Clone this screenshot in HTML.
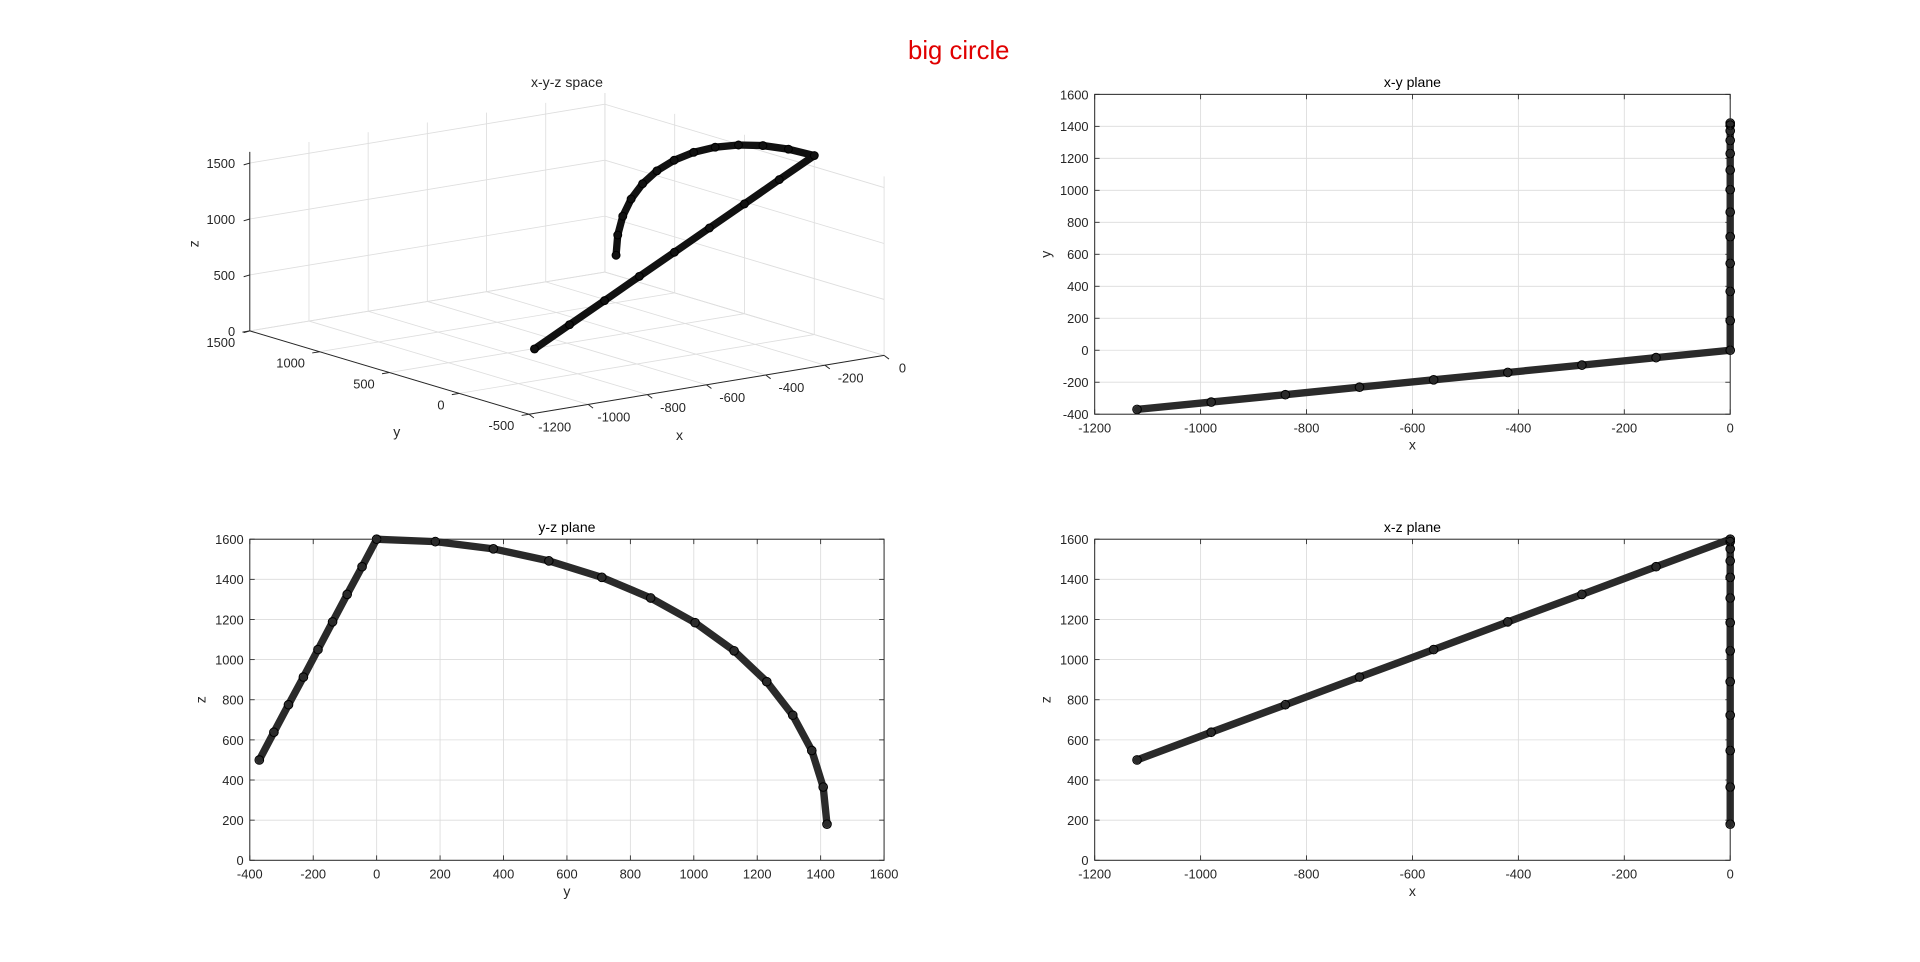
<!DOCTYPE html>
<html><head><meta charset="utf-8"><title>big circle</title>
<style>html,body{margin:0;padding:0;background:#fff;}svg{display:block;font-family:"Liberation Sans",sans-serif;}</style>
</head><body>
<svg id="fig" width="1920" height="962" viewBox="0 0 1568 785" preserveAspectRatio="none" xmlns="http://www.w3.org/2000/svg">
<rect width="1568" height="785" fill="#fff"/>
<text x="783" y="48" text-anchor="middle" font-size="21" fill="#e00000">big circle</text>
</svg>
<script>
// trajectory data: straight segment then quarter arc
const xs = [-1120,-980,-840,-700,-560,-420,-280,-140,0, 0,0,0,0,0,0,0,0,0,0,0,0];
const ys = [-370,-324,-278,-231,-185,-139,-93,-46,0, 185,368,543,710,864,1004,1127,1230,1312,1372,1408,1420];
const zs = [500,638,775,913,1050,1188,1325,1463,1600, 1588,1552,1492,1410,1307,1184,1044,890,723,547,365,180];
const xTicks2d = [-1200,-1000,-800,-600,-400,-200,0];
const yTicksXY = [-400,-200,0,200,400,600,800,1000,1200,1400,1600];
const yTicksYZ = [-400,-200,0,200,400,600,800,1000,1200,1400,1600];
const zTicks2d = [0,200,400,600,800,1000,1200,1400,1600];
const x3Ticks = [-1200,-1000,-800,-600,-400,-200,0];
const y3Ticks = [-500,0,500,1000,1500];
const z3Ticks = [0,500,1000,1500];

const NS="http://www.w3.org/2000/svg";
const svg=document.getElementById('fig');
function mk(tag,attrs,parent){const e=document.createElementNS(NS,tag);for(const k in attrs)e.setAttribute(k,attrs[k]);(parent||svg).appendChild(e);return e;}

function panel2d(name,L,R,T,B,xmin,xmax,ymin,ymax,xt,yt,title,xl,yl,px,py){
  const g=mk('g',{});
  
  
  const sx=v=>L+(v-xmin)/(xmax-xmin)*(R-L);
  const sy=v=>B-(v-ymin)/(ymax-ymin)*(B-T);
  mk('rect',{x:L,y:T,width:R-L,height:B-T,fill:'#fff'},g);
  xt.forEach(v=>{const l=mk('line',{x1:sx(v),x2:sx(v),y1:T,y2:B,stroke:'#dcdcdc','stroke-width':0.7},g);});
  yt.forEach(v=>{const l=mk('line',{x1:L,x2:R,y1:sy(v),y2:sy(v),stroke:'#dcdcdc','stroke-width':0.7},g);});
  xt.forEach(v=>{
    mk('line',{x1:sx(v),x2:sx(v),y1:B,y2:B-4,stroke:'#262626','stroke-width':0.7},g);
    mk('line',{x1:sx(v),x2:sx(v),y1:T,y2:T+4,stroke:'#262626','stroke-width':0.7},g);
    const t=mk('text',{x:sx(v),y:B+15,'text-anchor':'middle','font-size':10.5,fill:'#262626'},g);t.textContent=v;
    
  });
  yt.forEach(v=>{
    mk('line',{x1:L,x2:L+4,y1:sy(v),y2:sy(v),stroke:'#262626','stroke-width':0.7},g);
    mk('line',{x1:R,x2:R-4,y1:sy(v),y2:sy(v),stroke:'#262626','stroke-width':0.7},g);
    const t=mk('text',{x:L-5,y:sy(v)+4,'text-anchor':'end','font-size':10.5,fill:'#262626'},g);t.textContent=v;
    
  });
  const pts=px.map((v,i)=>sx(v)+','+sy(py[i])).join(' ');
  const pl=mk('polyline',{points:pts,fill:'none',stroke:'#2a2a2a','stroke-width':6,'stroke-linejoin':'round','stroke-linecap':'round'},g);
  
  px.forEach((v,i)=>{const c=mk('circle',{cx:sx(v),cy:sy(py[i]),r:3.5,fill:'none',stroke:'#000','stroke-width':0.9},g);});
  mk('rect',{x:L,y:T,width:R-L,height:B-T,fill:'none',stroke:'#262626','stroke-width':0.8},g);
  const tt=mk('text',{x:(L+R)/2,y:T-6,'text-anchor':'middle','font-size':11.5,fill:'#000'},g);tt.textContent=title;
  
  const xa=mk('text',{x:(L+R)/2,y:B+29,'text-anchor':'middle','font-size':11.5,fill:'#262626'},g);xa.textContent=xl;
  
  const ya=mk('text',{x:0,y:0,'text-anchor':'middle','font-size':11.5,fill:'#262626',transform:`translate(${L-36},${(T+B)/2}) rotate(-90)`},g);ya.textContent=yl;
  
}
panel2d('xy-plane-panel',894,1413,77,338,-1200,0,-400,1600,xTicks2d,yTicksXY,'x-y plane','x','y',xs,ys);
panel2d('yz-plane-panel',204,722,440,702,-400,1600,0,1600,yTicksYZ,zTicks2d,'y-z plane','y','z',ys,zs);
panel2d('xz-plane-panel',894,1413,440,702,-1200,0,0,1600,xTicks2d,zTicks2d,'x-z plane','x','z',xs,zs);

// 3D panel
(function(){
  const g=mk('g',{});
  
  
  const O=[204,270];
  const P=(x,y,z)=>{const a=(x+1200)/1200,b=(1500-y)/2000;return [O[0]+a*290+b*228, O[1]-a*48+b*68-z*0.0913];};
  const ZM=1600;
  const line=(p,q,st,w,name)=>{const l=mk('line',{x1:p[0],y1:p[1],x2:q[0],y2:q[1],stroke:st,'stroke-width':w},g);return l;};
  const gc='#dedede';
  x3Ticks.forEach(v=>line(P(v,-500,0),P(v,1500,0),gc,0.7,'floor-gridline'));
  y3Ticks.forEach(v=>line(P(-1200,v,0),P(0,v,0),gc,0.7,'floor-gridline'));
  x3Ticks.forEach(v=>line(P(v,1500,0),P(v,1500,ZM),gc,0.7,'wall-gridline'));
  z3Ticks.forEach(v=>line(P(-1200,1500,v),P(0,1500,v),gc,0.7,'wall-gridline'));
  y3Ticks.forEach(v=>line(P(0,v,0),P(0,v,ZM),gc,0.7,'wall-gridline'));
  z3Ticks.forEach(v=>line(P(0,-500,v),P(0,1500,v),gc,0.7,'wall-gridline'));
  line(P(-1200,1500,0),P(-1200,1500,ZM),'#262626',0.8,'z-axis');
  line(P(-1200,1500,0),P(-1200,-500,0),'#262626',0.8,'y-axis');
  line(P(-1200,-500,0),P(0,-500,0),'#262626',0.8,'x-axis');
  z3Ticks.forEach(v=>{const p=P(-1200,1500,v);line(p,[p[0]-5,p[1]+1.5],'#262626',0.8,'z-tick');
    const t=mk('text',{x:p[0]-12,y:p[1]+4,'text-anchor':'end','font-size':10.5,fill:'#262626'},g);t.textContent=v;});
  y3Ticks.forEach(v=>{const p=P(-1200,v,0);line(p,[p[0]-6,p[1]+1],'#262626',0.8,'y-tick');
    const t=mk('text',{x:p[0]-12,y:p[1]+13,'text-anchor':'end','font-size':10.5,fill:'#262626'},g);t.textContent=v;});
  x3Ticks.forEach(v=>{const p=P(v,-500,0);line(p,[p[0]+4,p[1]+3],'#262626',0.8,'x-tick');
    const t=mk('text',{x:p[0]+(v===0?15:21),y:p[1]+14,'text-anchor':'middle','font-size':10.5,fill:'#262626'},g);t.textContent=v;});
  const tl=(x,y,s,name,rot)=>{const t=mk('text',{x:x,y:y,'text-anchor':'middle','font-size':11.5,fill:'#262626'},g);if(rot)t.setAttribute('transform',`rotate(-90 ${x} ${y})`);t.textContent=s;};
  tl(463,71,'x-y-z space','panel-title');
  tl(555,359,'x','x-axis-title');
  tl(324,356,'y','y-axis-title');
  tl(162,199,'z','z-axis-title',true);
  const pts=xs.map((v,i)=>P(v,ys[i],zs[i]).join(',')).join(' ');
  const pl=mk('polyline',{points:pts,fill:'none',stroke:'#111','stroke-width':6,'stroke-linejoin':'round','stroke-linecap':'round'},g);
  
  xs.forEach((v,i)=>{const p=P(v,ys[i],zs[i]);const c=mk('circle',{cx:p[0],cy:p[1],r:3.2,fill:'none',stroke:'#000','stroke-width':0.9},g);});
})();
</script>
</body></html>
